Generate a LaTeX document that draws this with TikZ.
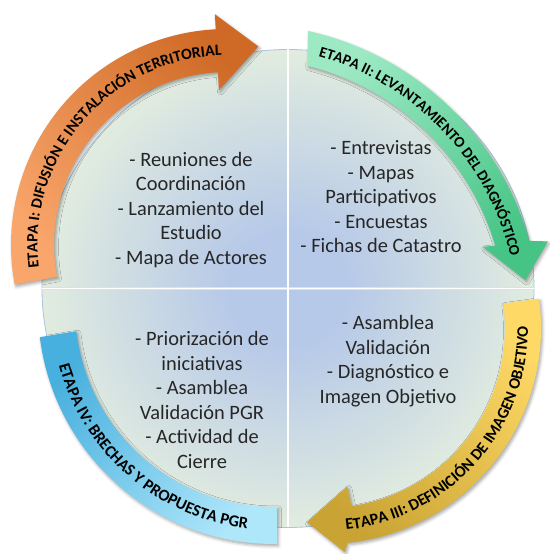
\documentclass[tikz,border=0pt]{standalone}
\usepackage{fontspec}
\setmainfont{Carlito}
\usetikzlibrary{calc,decorations.text,shadows.blur}
\definecolor{bgin}{HTML}{B6C9E8}
\definecolor{bgout}{HTML}{EDF5DD}
\definecolor{rim}{HTML}{A9C4E4}
\definecolor{orL}{HTML}{F9A66C}
\definecolor{orD}{HTML}{CF6A26}
\definecolor{grL}{HTML}{9DE9C4}
\definecolor{grD}{HTML}{45C485}
\definecolor{yeL}{HTML}{FFD966}
\definecolor{yeD}{HTML}{C9A434}
\definecolor{blD}{HTML}{48B0DE}
\definecolor{blL}{HTML}{AEE6FA}
\definecolor{txt}{HTML}{262626}
\pgfdeclareradialshading{bgshade}{\pgfpoint{0bp}{0bp}}{color(0bp)=(bgin); color(6bp)=(bgin); color(30bp)=(bgout); color(50bp)=(bgout)}
\newcommand{\arrfont}[1]{\fontsize{#1}{#1}\selectfont\bfseries}
\tikzset{
  body/.style={align=center, text=txt, font=\fontsize{20.5}{24.6}\selectfont, inner sep=0pt},
  arrowshape/.style={blur shadow={shadow xshift=1.5bp, shadow yshift=-2bp, shadow blur radius=3bp, shadow opacity=35}},
  arctext/.style={decorate, decoration={text along path, text align=center, text={#1}}},
}
\begin{document}
\begin{tikzpicture}[x=1bp,y=1bp]
\useasboundingbox (0,0) rectangle (550,554);
\coordinate (C) at (288,265.5);
\coordinate (top) at (288,504.5);
\coordinate (bot) at (288,26.5);
\coordinate (lft) at (42,265.5);
\coordinate (rgt) at (534,265.5);
\coordinate (O1) at (227,309);
\coordinate (O2) at (244,234);
\coordinate (O3) at (325,226);
\coordinate (O4) at (274,246);
% background circle
\shade[shading=bgshade] (C) ellipse [x radius=246, y radius=239];
\draw[rim, line width=0.8bp] (C) ellipse [x radius=246, y radius=239];
\draw[black!12, line width=2.4bp] (top) -- (bot) (lft) -- (rgt);
\draw[white, line width=1.3bp] (top) -- (bot) (lft) -- (rgt);
% body texts
\node[body] (q1) at (191,344) {- Reuniones de\\Coordinación\\- Lanzamiento del\\Estudio\\- Mapa de Actores};
\node[body] (q2) at (381,357) {- Entrevistas\\- Mapas\\Participativos\\- Encuestas\\- Fichas de Catastro};
\node[body] (q3) at (388,193) {- Asamblea\\Validación\\- Diagnóstico e\\Imagen Objetivo};
\node[body] (q4) at (202,154) {- Priorización de\\iniciativas\\- Asamblea\\Validación PGR\\- Actividad de\\Cierre};
% orange arrow
\shade[arrowshape, top color=orL, bottom color=orD, shading angle=131]
  ($(O1)+(190.6:216)$) arc[start angle=190.6, end angle=93, radius=216]
  -- ($(O1)+(93:231)$) -- ($(O1)+(81:201)$) -- ($(O1)+(93:155)$)
  -- ($(O1)+(93:173)$) arc[start angle=93, end angle=190.6, radius=173] -- cycle;
% green arrow
\shade[arrowshape, top color=grL, bottom color=grD, shading angle=43]
  ($(O2)+(77.5:296)$) arc[start angle=77.5, end angle=15.5, radius=296]
  -- ($(O2)+(14.5:314)$) -- ($(O2)+(8.1:284)$) -- ($(O2)+(17:250)$)
  -- ($(O2)+(16.5:262)$) arc[start angle=16.5, end angle=76, radius=262] -- cycle;
% yellow arrow
\shade[arrowshape, top color=yeL, bottom color=yeD, shading angle=-43]
  ($(O3)+(7.8:216)$) arc[start angle=7.8, end angle=-84, radius=216]
  -- ($(O3)+(-85:225)$) -- ($(O3)+(-95.3:195)$) -- ($(O3)+(-82:160)$)
  -- ($(O3)+(-81.5:180)$) arc[start angle=-81.5, end angle=7.8, radius=180] -- cycle;
% blue band
\shade[arrowshape, top color=blD, bottom color=blL, shading angle=48]
  ($(O4)+(187.1:236)$) arc[start angle=187.1, end angle=270.7, radius=236]
  -- ($(O4)+(270.9:199)$) arc[start angle=270.9, end angle=186.7, radius=199] -- cycle;
% texts on arrows
\path[arctext={|\arrfont{15.8}|ETAPA I: DIFUSIÓN E INSTALACIÓN TERRITORIAL}]
  ($(O1)+(199.25:189.5)$) arc[start angle=199.25, end angle=79.25, radius=189.5];
\path[arctext={|\arrfont{15.2}|ETAPA II: LEVANTAMIENTO DEL DIAGNÓSTICO}]
  ($(O2)+(93.8:274)$) arc[start angle=93.8, end angle=-6.2, radius=274];
\path[arctext={|\arrfont{16.2}|ETAPA III: DEFINICIÓN DE IMAGEN OBJETIVO}]
  ($(O3)+(-101.75:203)$) arc[start angle=-101.75, end angle=18.25, radius=203];
\path[arctext={|\arrfont{16.5}|ETAPA IV: BRECHAS Y PROPUESTA PGR}]
  ($(O4)+(179:222.5)$) arc[start angle=179, end angle=279, radius=222.5];
\end{tikzpicture}
\end{document}
